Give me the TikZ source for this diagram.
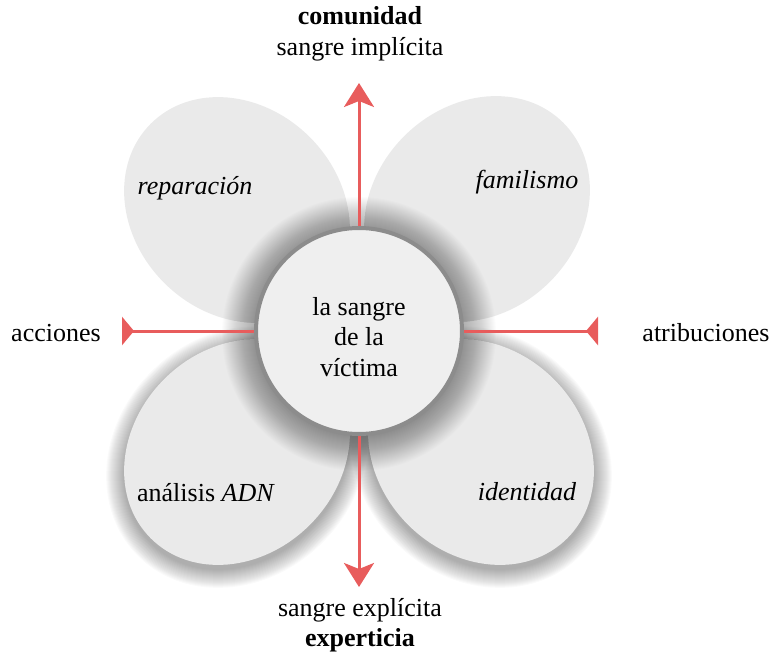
\documentclass[tikz,border=0pt]{standalone}
\usepackage{fontspec}
\setmainfont{Liberation Serif}
\usetikzlibrary{shapes.geometric,arrows.meta}
\definecolor{petalfill}{RGB}{234,234,234}
\definecolor{hubfill}{RGB}{239,239,239}
\definecolor{hubline}{RGB}{140,140,140}
\definecolor{axisred}{RGB}{232,92,92}
\begin{document}
\begin{tikzpicture}[x=1pt,y=1pt,
  petal/.style={ellipse, minimum width=244pt, minimum height=206pt, inner sep=0pt, fill=petalfill},
  petalshade/.style={fill=black, opacity=0.02},
  hubshade/.style={fill=black, opacity=0.011},
  hub/.style={circle, minimum size=206pt, inner sep=0pt, fill=hubfill, draw=hubline, line width=4pt},
  txt/.style={font=\rmfamily\fontsize{26}{30.5}\selectfont, align=center, inner sep=0pt},
  axis/.style={draw=axisred, line width=3pt},
  vtip/.style={-{Stealth[length=24pt,width=30pt,inset=6pt]}},
  htip/.style={-{Triangle[reversed,length=12pt,width=28pt]}}
]
\useasboundingbox (0,0) rectangle (776,657);
% soft shadows of the lower petals
\foreach \k [evaluate=\k as \ra using 122+\k, evaluate=\k as \rb using 103+\k] in {0,...,18} {
  \fill[petalshade, rotate around={45:(237,200)}] (237,200) ellipse [x radius=\ra pt, y radius=\rb pt];
  \fill[petalshade, rotate around={135:(481,200)}] (481,200) ellipse [x radius=\ra pt, y radius=\rb pt];
}
% petals
\node[petal, rotate=135] (pul) at (237,447) {};
\node[petal, rotate=45] (pur) at (477,448) {};
\node[petal, rotate=45] (pll) at (237,205) {};
\node[petal, rotate=135] (plr) at (481,205) {};
% soft shadow of the hub
\foreach \k [evaluate=\k as \r using 103+\k] in {0,...,34} {
  \fill[hubshade] (359,323) circle [radius=\r pt];
}
% hub
\node[hub] (hub) at (359,326) {};
\node[txt] (hubtext) at (359,320) {la sangre\\de la\\víctima};
% axis ends
\coordinate (topend) at (359,574);
\coordinate (botend) at (359,70);
\coordinate (leftend) at (122,326);
\coordinate (rightend) at (598,326);
\draw[axis, vtip] (hub.north) -- (topend);
\draw[axis, vtip] (hub.south) -- (botend);
\draw[axis, htip] (hub.west) -- (leftend);
\draw[axis, htip] (hub.east) -- (rightend);
% labels
\node[txt] (top) at (360,623) {\textbf{comunidad}\\sangre implícita};
\node[txt] (bottom) at (360,32) {sangre explícita\\\textbf{experticia}};
\node[txt] (acc) at (56,324) {acciones};
\node[txt] (atr) at (706,324) {atribuciones};
\node[txt] (rep) at (195,469) {\itshape reparación};
\node[txt] (fam) at (527,475) {\itshape familismo};
\node[txt] (adn) at (206,164) {análisis \textit{ADN}};
\node[txt] (ide) at (527,165) {\itshape identidad};
\end{tikzpicture}
\end{document}
